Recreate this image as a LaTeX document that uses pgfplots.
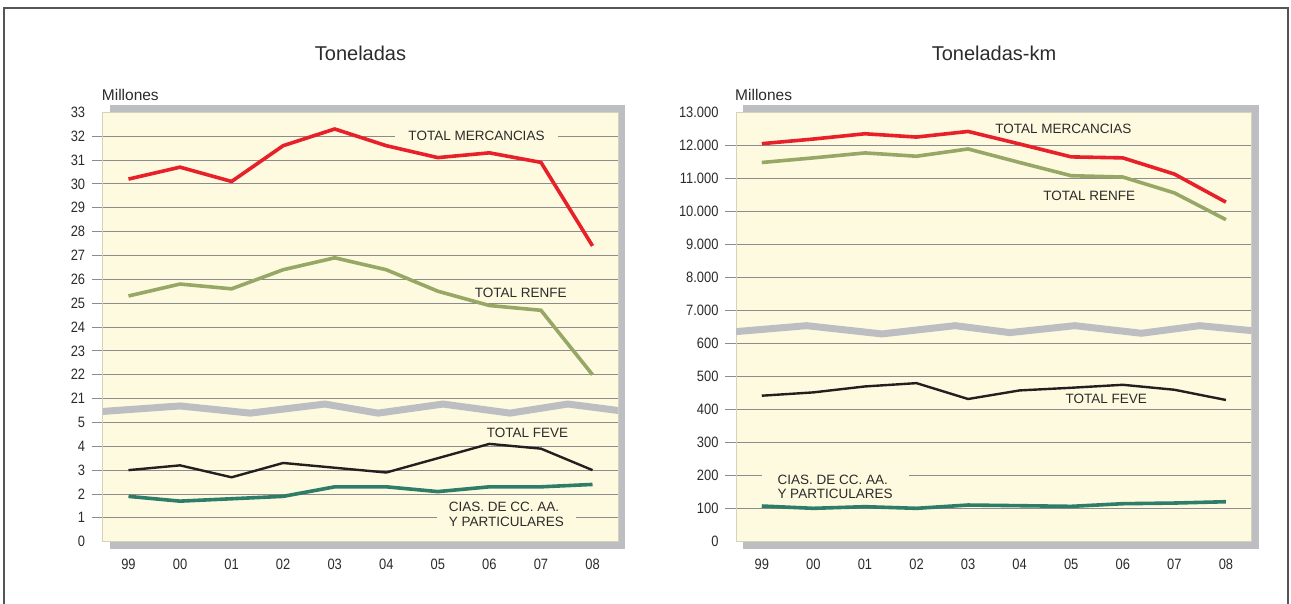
\documentclass[border=0pt]{standalone}
\usepackage{fontspec}
\setmainfont{Liberation Sans}
\newfontfamily\condfont[FakeStretch=0.86]{Liberation Sans}
\usepackage{pgfplots}
\usepackage{pgfplotstable}
\pgfplotsset{compat=1.18}

\definecolor{bgy}{HTML}{FEFADF}
\definecolor{shadowc}{HTML}{BDBEC1}
\definecolor{gridc}{HTML}{8C8C8C}
\definecolor{axc}{HTML}{D4D1BC}
\definecolor{cred}{HTML}{E8202A}
\definecolor{cgreen}{HTML}{97A866}
\definecolor{cteal}{HTML}{2E7D69}
\definecolor{cblack}{HTML}{231F20}
\definecolor{framec}{HTML}{555555}
\definecolor{txt}{HTML}{2B2B2B}

% Toneladas (millones)
\pgfplotstableread{
x merc renfe feve cias
0 30.2 25.3 3.0 1.9
1 30.7 25.8 3.2 1.7
2 30.1 25.6 2.7 1.8
3 31.6 26.4 3.3 1.9
4 32.3 26.9 3.1 2.3
5 31.6 26.4 2.9 2.3
6 31.1 25.5 3.5 2.1
7 31.3 24.9 4.1 2.3
8 30.9 24.7 3.9 2.3
9 27.4 22.0 3.0 2.4
}\tonL

% Toneladas-km (millones)
\pgfplotstableread{
x merc renfe feve cias
0 12050 11480 442 108
1 12190 11620 452 101
2 12350 11770 470 106
3 12250 11670 480 101
4 12420 11890 432 111
5 12040 11480 458 109
6 11650 11080 466 107
7 11620 11040 475 115
8 11130 10560 460 117
9 10280 9750 429 121
}\tonR

% axis-break bands (axis positions)
\pgfplotstableread{
x y
-0.5 5.46
1.0 5.69
2.36 5.39
3.81 5.77
4.84 5.39
6.1 5.77
7.4 5.39
8.52 5.77
9.5 5.50
}\bandL
\pgfplotstableread{
x y
-0.5 6.36
0.87 6.54
2.33 6.29
3.75 6.54
4.81 6.33
6.07 6.54
7.36 6.31
8.49 6.54
9.5 6.39
}\bandR

\tikzset{lbl/.style={font=\fontsize{13.5}{14.5}\selectfont, text=txt}}

\pgfplotsset{panel/.style={
  scale only axis, width=515.6pt, height=429.4pt, anchor=south west,
  xmin=-0.5, xmax=9.5, xtick={0,...,9},
  xticklabels={99,00,01,02,03,04,05,06,07,08},
  axis background/.style={fill=bgy},
  axis line style={axc, line width=1pt},
  ymajorgrids, major grid style={gridc, line width=0.8pt},
  tick align=outside, major tick length=11pt,
  ytick pos=left,
  ytick style={gridc, line width=0.8pt},
  xtick style={draw=none},
  ticklabel style={font=\condfont\fontsize{15}{15}\selectfont, text=txt},
  yticklabel style={xshift=-3pt},
  xticklabel style={yshift=-3pt},
  extra y tick style={grid=none, tick style={draw=none}},
}}

\begin{document}
\begin{tikzpicture}[x=1pt,y=1pt]
\useasboundingbox (0,0) rectangle (1291,604);
% shadows
\fill[shadowc] (109.7,55.3) rectangle (625.3,498.7);
\fill[shadowc] (743.3,55.3) rectangle (1259.0,498.7);

\begin{axis}[panel, at={(102.7pt,62.3pt)},
  ymin=0, ymax=18, ytick={1,...,17},
  yticklabels={1,2,3,4,5,21,22,23,24,25,26,27,28,29,30,31,32},
  extra y ticks={0,18}, extra y tick labels={0,33}]
\node[lbl, fill=bgy, inner xsep=13pt, inner ysep=1pt] at (axis cs:6.75,17) {TOTAL MERCANCIAS};
\node[lbl] at (axis cs:7.61,10.45) {TOTAL RENFE};
\node[lbl] at (axis cs:7.74,4.55) {TOTAL FEVE};
\node[lbl, fill=bgy, align=left, inner xsep=12pt, inner ysep=0pt] at (axis cs:7.33,1.14) {CIAS. DE CC. AA.\\Y PARTICULARES};
\addplot[shadowc, line width=7pt] table[x=x,y=y] {\bandL};
\addplot[cred, line width=3.6pt] table[x=x, y expr=\thisrow{merc}-15] {\tonL};
\addplot[cgreen, line width=3.6pt] table[x=x, y expr=\thisrow{renfe}-15] {\tonL};
\addplot[cblack, line width=2.4pt] table[x=x, y=feve] {\tonL};
\addplot[cteal, line width=3.6pt] table[x=x, y=cias] {\tonL};
\end{axis}

\begin{axis}[panel, at={(736pt,62.3pt)}, width=515.7pt,
  ymin=0, ymax=13, ytick={1,...,12},
  yticklabels={100,200,300,400,500,600,7.000,8.000,9.000,10.000,11.000,12.000},
  extra y ticks={0,13}, extra y tick labels={0,13.000}]
\node[lbl] at (axis cs:5.85,12.5) {TOTAL MERCANCIAS};
\node[lbl] at (axis cs:6.35,10.48) {TOTAL RENFE};
\node[lbl] at (axis cs:6.68,4.32) {TOTAL FEVE};
\node[lbl, fill=bgy, align=left, inner xsep=16pt, inner ysep=0pt] at (axis cs:1.42,1.66) {CIAS. DE CC. AA.\\Y PARTICULARES};
\addplot[shadowc, line width=7pt] table[x=x,y=y] {\bandR};
\addplot[cred, line width=3.6pt] table[x=x, y expr=\thisrow{merc}/1000] {\tonR};
\addplot[cgreen, line width=3.6pt] table[x=x, y expr=\thisrow{renfe}/1000] {\tonR};
\addplot[cblack, line width=2.4pt] table[x=x, y expr=\thisrow{feve}/100] {\tonR};
\addplot[cteal, line width=3.6pt] table[x=x, y expr=\thisrow{cias}/100] {\tonR};
\end{axis}

% titles and unit labels
\node[font=\fontsize{20}{24}\selectfont, text=txt] at (360.5,551) {Toneladas};
\node[font=\fontsize{20}{24}\selectfont, text=txt] at (994,551) {Toneladas-km};
\node[font=\fontsize{15.5}{18}\selectfont, text=txt, anchor=west, inner sep=0pt] at (101.7,509) {Millones};
\node[font=\fontsize{15.5}{18}\selectfont, text=txt, anchor=west, inner sep=0pt] at (735,509) {Millones};
% frame
\draw[framec, line width=2pt] (4,-5) -- (4,596) -- (1288,596) -- (1288,-5);
\end{tikzpicture}
\end{document}
